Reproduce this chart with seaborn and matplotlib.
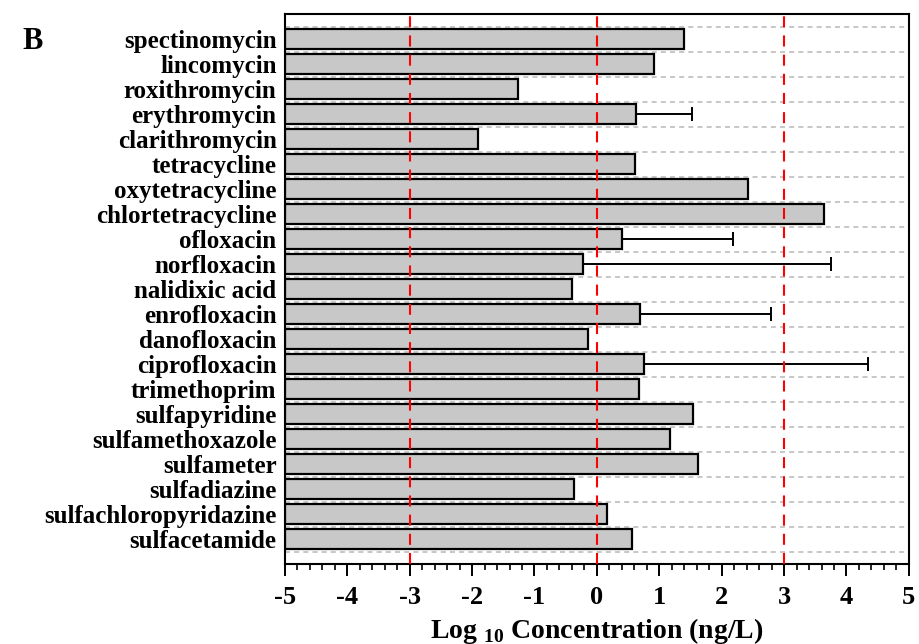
#coding:utf-8
import numpy as np
import pandas as pd
import seaborn as sns
import matplotlib
matplotlib.use('Agg')
import matplotlib.pyplot as plt
from matplotlib.ticker import MultipleLocator

# antibiotics, top to bottom
compounds = ['spectinomycin', 'lincomycin', 'roxithromycin', 'erythromycin',
             'clarithromycin', 'tetracycline', 'oxytetracycline',
             'chlortetracycline', 'ofloxacin', 'norfloxacin', 'nalidixic acid',
             'enrofloxacin', 'danofloxacin', 'ciprofloxacin', 'trimethoprim',
             'sulfapyridine', 'sulfamethoxazole', 'sulfameter', 'sulfadiazine',
             'sulfachloropyridazine', 'sulfacetamide']

# log10 concentration (ng/L)
log_conc = [1.40, 0.92, -1.27, 0.62, -1.91, 0.61, 2.42, 3.64, 0.40, -0.22,
            -0.40, 0.69, -0.15, 0.75, 0.67, 1.54, 1.17, 1.62, -0.37, 0.17,
            0.56]

# upper end of the error bar (nan = none)
err_top = [np.nan, np.nan, np.nan, 1.52, np.nan, np.nan, np.nan, np.nan, 2.18,
           3.75, np.nan, 2.79, np.nan, 4.35, np.nan, np.nan, np.nan, np.nan,
           np.nan, np.nan, np.nan]

ref_lines = [-3, 0, 3]
xmin, xmax = -5, 5


def draw_panel(outpath):

    data = pd.DataFrame({'compound': compounds, 'conc': log_conc, 'top': err_top})

    sns.set_theme(style='ticks')
    plt.rcParams['font.family'] = ['Liberation Serif', 'DejaVu Serif']
    plt.rcParams['font.weight'] = 'bold'
    plt.rcParams['text.color'] = 'black'
    plt.rcParams['xtick.color'] = 'black'
    plt.rcParams['ytick.color'] = 'black'
    plt.rcParams['axes.labelcolor'] = 'black'
    plt.rcParams['axes.unicode_minus'] = False
    plt.rcParams['mathtext.fontset'] = 'custom'
    plt.rcParams['mathtext.rm'] = 'Liberation Serif:bold'
    plt.rcParams['mathtext.bf'] = 'Liberation Serif:bold'

    fig = plt.figure(figsize=(9.19, 6.44), dpi=100)
    ax = fig.add_axes([0.310, 0.124, 0.679, 0.854])

    sns.barplot(data=data, x='conc', y='compound', orient='h', ax=ax,
                color='#c8c8c8', saturation=1, edgecolor='black',
                linewidth=1.6, width=0.8, zorder=2)

    # bars start from the left edge of the axis
    for patch, v in zip(ax.patches, data['conc']):
        patch.set_x(xmin)
        patch.set_width(v - xmin)

    # one-sided error bars
    for i, row in data.iterrows():
        if np.isnan(row['top']):
            continue
        ax.errorbar(row['conc'], i, xerr=[[0], [row['top'] - row['conc']]],
                    fmt='none', ecolor='black', elinewidth=1.4, capsize=5,
                    capthick=1.4, zorder=3)

    for x in ref_lines:
        ax.axvline(x, color='red', lw=1.5, ls=(0, (5.3, 3.9)), zorder=4)

    ax.set_xlim(xmin, xmax)
    ax.set_ylim(len(compounds), -1)
    ax.xaxis.set_major_locator(MultipleLocator(1))
    ax.xaxis.set_minor_locator(MultipleLocator(0.2))
    ax.set_yticks(np.arange(-0.5, len(compounds), 1), minor=True)
    ax.grid(axis='y', which='minor', color='#bdbdbd', lw=1.2,
            ls=(0, (3, 2.5)), zorder=0)
    ax.grid(axis='y', which='major', visible=False)
    ax.set_axisbelow(True)

    ax.tick_params(axis='x', which='major', length=8.5, width=1.4,
                   direction='out', labelsize=19, pad=7)
    ax.tick_params(axis='x', which='minor', length=4.3, width=1.2,
                   direction='out')
    ax.tick_params(axis='y', which='both', length=0, labelsize=18, pad=6)
    for lab in ax.get_xticklabels() + ax.get_yticklabels():
        lab.set_fontweight('bold')

    for s in ax.spines.values():
        s.set_visible(True)
        s.set_linewidth(1.5)
        s.set_color('black')

    ax.set_ylabel('')
    ax.set_xlabel(r'Log $_{10}$ Concentration (ng/L)', fontsize=20,
                  fontweight='bold', labelpad=5)

    fig.text(0.024, 0.935, 'B', fontsize=22, fontweight='bold',
             ha='left', va='center')

    plt.savefig(outpath, dpi=100)


if __name__ == "__main__":

    draw_panel('out.png')
